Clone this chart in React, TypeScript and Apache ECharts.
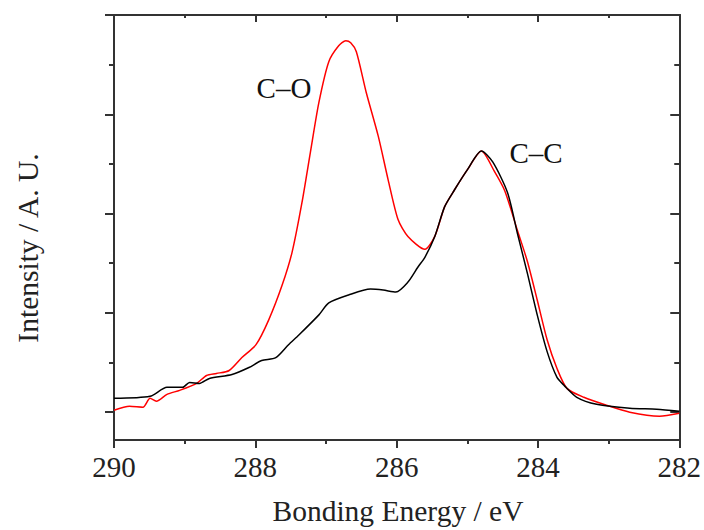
import React, { useEffect, useRef } from "react";
import * as echarts from "echarts";

// Binding energy (eV) and intensity (a.u.)
const blackEnergy = [290.0, 289.49, 289.25, 289.03, 288.93, 288.79, 288.65, 288.33, 288.09, 287.91, 287.71, 287.53, 287.38, 287.1, 286.96, 286.68, 286.37, 286.19, 286.01, 285.84, 285.7, 285.6, 285.46, 285.32, 285.18, 285.0, 284.8, 284.64, 284.43, 284.29, 284.15, 284.01, 283.87, 283.73, 283.63, 283.45, 283.17, 282.7, 282.32, 282.0];
const blackIntensity = [0.14, 0.16, 0.25, 0.25, 0.3, 0.29, 0.34, 0.38, 0.45, 0.52, 0.55, 0.68, 0.78, 0.98, 1.1, 1.18, 1.24, 1.23, 1.21, 1.31, 1.46, 1.56, 1.77, 2.07, 2.24, 2.44, 2.63, 2.52, 2.21, 1.8, 1.4, 0.98, 0.61, 0.35, 0.27, 0.15, 0.08, 0.04, 0.03, 0.01];

const redEnergy = [290.0, 289.78, 289.59, 289.49, 289.4, 289.25, 289.07, 288.83, 288.69, 288.55, 288.37, 288.19, 287.99, 287.81, 287.62, 287.48, 287.34, 287.22, 287.1, 286.96, 286.82, 286.72, 286.65, 286.57, 286.43, 286.26, 286.12, 285.98, 285.84, 285.6, 285.46, 285.32, 285.18, 285.0, 284.8, 284.62, 284.47, 284.29, 284.15, 284.01, 283.87, 283.73, 283.59, 283.35, 283.03, 282.7, 282.28, 282.0];
const redIntensity = [0.02, 0.06, 0.05, 0.14, 0.11, 0.18, 0.22, 0.29, 0.37, 0.39, 0.42, 0.55, 0.68, 0.93, 1.28, 1.61, 2.11, 2.62, 3.12, 3.53, 3.69, 3.74, 3.72, 3.63, 3.22, 2.78, 2.34, 1.94, 1.77, 1.64, 1.77, 2.07, 2.24, 2.44, 2.63, 2.43, 2.23, 1.83, 1.52, 1.13, 0.73, 0.44, 0.24, 0.15, 0.07, 0.0, -0.04, -0.01];

const xTicks = [282, 284, 286, 288, 290];
const yMajor = [0, 1, 2, 3, 4];
const yMinor = [0.5, 1.5, 2.5, 3.5];

const annotations = [
  { text: "C–O", x: 284, y: 88 },
  { text: "C–C", x: 536, y: 153 },
];

const FONT = "'Liberation Serif', 'Times New Roman', serif";
const AX = "#333";

export default function App() {
  const ref = useRef<HTMLDivElement>(null);
  useEffect(() => {
    if (!ref.current) return;
    const chart = echarts.init(ref.current, undefined, { renderer: "svg" });
    const xBase = {
      type: "value" as const,
      min: xTicks[0],
      max: xTicks[xTicks.length - 1],
      interval: 2,
      inverse: true,
      splitLine: { show: false },
      minorSplitLine: { show: false },
      axisLine: { show: true, onZero: false, lineStyle: { color: AX, width: 2 } },
    };
    const yBase = {
      type: "value" as const,
      min: -0.28,
      max: 4,
      splitLine: { show: false },
      axisLabel: { show: false },
      axisLine: { show: true, onZero: false, lineStyle: { color: AX, width: 2 } },
    };
    chart.setOption({
      animation: false,
      backgroundColor: "#fff",
      grid: { left: 114, right: 20, top: 15, bottom: 90, containLabel: false },
      xAxis: [
        {
          ...xBase,
          position: "bottom",
          axisTick: { show: true, inside: false, length: 8, lineStyle: { color: AX, width: 2 } },
          minorTick: { show: true, splitNumber: 2, length: 4, lineStyle: { color: AX, width: 2 } },
          axisLabel: {
            show: true,
            fontSize: 29,
            fontFamily: FONT,
            color: "#222",
            margin: 12,
            formatter: (v: number) => String(v),
          },
        },
        {
          ...xBase,
          position: "top",
          axisTick: { show: true, inside: true, length: 7, lineStyle: { color: AX, width: 2 } },
          minorTick: { show: true, splitNumber: 2, length: 3, lineStyle: { color: AX, width: 2 } },
          axisLabel: { show: false },
        },
      ],
      yAxis: [
        {
          ...yBase,
          position: "left",
          axisTick: { show: true, inside: false, length: 9, customValues: yMajor, lineStyle: { color: AX, width: 2 } },
        },
        {
          ...yBase,
          position: "left",
          axisTick: { show: true, inside: false, length: 5, customValues: yMinor, lineStyle: { color: AX, width: 2 } },
        },
        {
          ...yBase,
          position: "right",
          axisTick: { show: true, inside: true, length: 9, customValues: yMajor, lineStyle: { color: AX, width: 2 } },
        },
        {
          ...yBase,
          position: "right",
          axisTick: { show: true, inside: true, length: 5, customValues: yMinor, lineStyle: { color: AX, width: 2 } },
        },
      ],
      series: [
        {
          type: "line",
          xAxisIndex: 0,
          yAxisIndex: 0,
          data: redEnergy.map((e, i) => [e, redIntensity[i]]),
          showSymbol: false,
          smooth: 0.25,
          lineStyle: { color: "#ff0000", width: 1.5 },
          z: 3,
        },
        {
          type: "line",
          xAxisIndex: 0,
          yAxisIndex: 0,
          data: blackEnergy.map((e, i) => [e, blackIntensity[i]]),
          showSymbol: false,
          smooth: 0.25,
          lineStyle: { color: "#000000", width: 1.5 },
          z: 4,
        },
      ],
      graphic: [
        ...annotations.map((a) => ({
          type: "text",
          x: a.x,
          y: a.y,
          style: {
            text: a.text,
            fontSize: 29,
            fontFamily: FONT,
            fill: "#111",
            textAlign: "center",
            textVerticalAlign: "middle",
          },
        })),
        {
          type: "text",
          x: 398,
          y: 511,
          style: {
            text: "Bonding Energy / eV",
            fontSize: 29.5,
            fontFamily: FONT,
            fill: "#222",
            textAlign: "center",
            textVerticalAlign: "middle",
          },
        },
        {
          type: "text",
          x: 28,
          y: 248,
          rotation: Math.PI / 2,
          style: {
            text: "Intensity / A. U.",
            fontSize: 29.5,
            fontFamily: FONT,
            fill: "#222",
            textAlign: "center",
            textVerticalAlign: "middle",
          },
        },
      ],
    });
    return () => chart.dispose();
  }, []);
  return (
    <div
      ref={ref}
      style={{ position: "fixed", left: 0, top: 0, width: 704, height: 530 }}
    />
  );
}
